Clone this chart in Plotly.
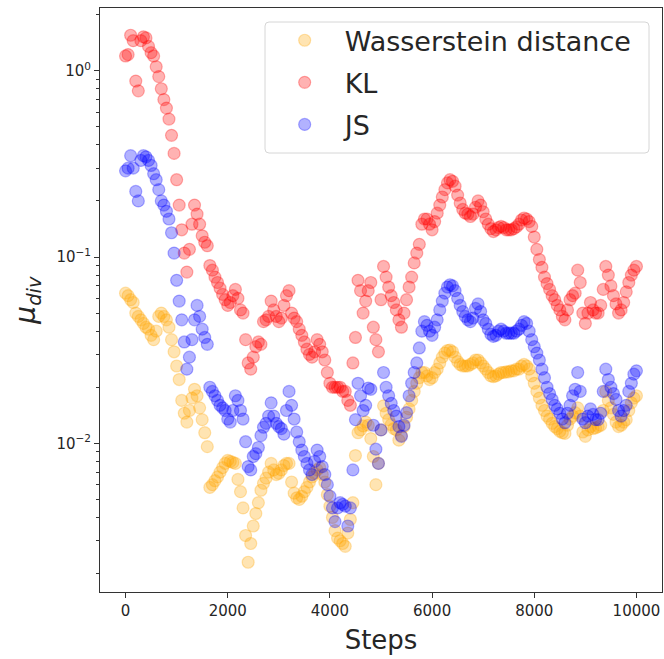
import plotly.graph_objects as go
import numpy as np

step_interval = 50

kl = [
    1.2, 1.22, 1.55, 1.45, 0.88, 0.78, 1.45, 1.52, 1.5, 1.35,
    1.25, 1.2, 1.05, 0.93, 0.8, 0.7, 0.63, 0.55, 0.45, 0.36,
    0.26, 0.19, 0.14, 0.105, 0.083, 0.11, 0.15, 0.19, 0.17, 0.15,
    0.13, 0.12, 0.115, 0.09, 0.085, 0.078, 0.073, 0.068, 0.063, 0.059,
    0.055, 0.057, 0.062, 0.067, 0.06, 0.052, 0.05, 0.036, 0.027, 0.025,
    0.029, 0.033, 0.035, 0.034, 0.045, 0.046, 0.048, 0.058, 0.052, 0.048,
    0.045, 0.047, 0.055, 0.062, 0.066, 0.05, 0.047, 0.045, 0.041, 0.038,
    0.035, 0.032, 0.03, 0.029, 0.031, 0.036, 0.034, 0.031, 0.028, 0.024,
    0.021, 0.02, 0.02, 0.02, 0.02, 0.019, 0.019, 0.017, 0.016, 0.027,
    0.037, 0.075, 0.066, 0.05, 0.058, 0.066, 0.073, 0.042, 0.036, 0.031,
    0.059, 0.089, 0.078, 0.069, 0.062, 0.057, 0.052, 0.046, 0.042, 0.05,
    0.059, 0.069, 0.078, 0.093, 0.105, 0.117, 0.15, 0.16, 0.16, 0.15,
    0.14, 0.155, 0.172, 0.19, 0.21, 0.23, 0.25, 0.26, 0.255, 0.24,
    0.215, 0.195, 0.18, 0.172, 0.17, 0.165, 0.17, 0.185, 0.2, 0.19,
    0.175, 0.16, 0.15, 0.142, 0.137, 0.14, 0.144, 0.146, 0.144, 0.14,
    0.14, 0.14, 0.142, 0.145, 0.15, 0.158, 0.162, 0.16, 0.155, 0.146,
    0.128, 0.11, 0.097, 0.088, 0.078, 0.072, 0.067, 0.062, 0.059, 0.055,
    0.052, 0.048, 0.046, 0.052, 0.059, 0.062, 0.064, 0.085, 0.073, 0.05,
    0.044, 0.05, 0.057, 0.052, 0.05, 0.05, 0.055, 0.067, 0.089, 0.08,
    0.07, 0.062, 0.056, 0.05, 0.052, 0.057, 0.065, 0.073, 0.08, 0.085,
    0.089,
]

js = [
    0.29, 0.3, 0.35, 0.3, 0.225, 0.2, 0.33, 0.35, 0.345, 0.33,
    0.31, 0.28, 0.26, 0.23, 0.2, 0.19, 0.176, 0.16, 0.135, 0.105,
    0.075, 0.058, 0.046, 0.035, 0.025, 0.029, 0.036, 0.046, 0.055, 0.048,
    0.041, 0.037, 0.034, 0.02, 0.019, 0.018, 0.017, 0.016, 0.0155, 0.015,
    0.0135, 0.013, 0.015, 0.018, 0.017, 0.015, 0.0135, 0.0102, 0.0075, 0.0072,
    0.0085, 0.0088, 0.0095, 0.011, 0.0122, 0.0128, 0.014, 0.0165, 0.014, 0.0128,
    0.0123, 0.012, 0.0112, 0.015, 0.019, 0.016, 0.0135, 0.0115, 0.0102, 0.0092,
    0.0085, 0.0078, 0.0072, 0.0068, 0.008, 0.0092, 0.0085, 0.0075, 0.0068, 0.006,
    0.0052, 0.0045, 0.0038, 0.0045, 0.0048, 0.0047, 0.0046, 0.0036, 0.0045, 0.0072,
    0.0134, 0.021, 0.018, 0.015, 0.016, 0.0198, 0.0195, 0.0125, 0.0093, 0.0078,
    0.0118, 0.024, 0.02, 0.018, 0.0164, 0.015, 0.014, 0.0123, 0.0109, 0.0125,
    0.0146, 0.018, 0.021, 0.024, 0.027, 0.0325, 0.04, 0.045, 0.043, 0.04,
    0.038, 0.042, 0.046, 0.052, 0.058, 0.064, 0.069, 0.071, 0.07, 0.066,
    0.06, 0.055, 0.051, 0.048, 0.046, 0.045, 0.047, 0.053, 0.056, 0.051,
    0.046, 0.044, 0.041, 0.0385, 0.0375, 0.038, 0.04, 0.041, 0.04, 0.039,
    0.039, 0.039, 0.039, 0.04, 0.041, 0.043, 0.045, 0.044, 0.04, 0.036,
    0.033, 0.0305, 0.028, 0.025, 0.0225, 0.02, 0.0185, 0.0172, 0.016, 0.0153,
    0.0145, 0.0135, 0.0129, 0.0145, 0.016, 0.018, 0.0195, 0.024, 0.019, 0.0135,
    0.0129, 0.014, 0.0153, 0.0143, 0.0134, 0.0134, 0.0145, 0.019, 0.025, 0.022,
    0.02, 0.0185, 0.0172, 0.015, 0.014, 0.015, 0.016, 0.019, 0.021, 0.0235,
    0.0245,
]

wasserstein = [
    0.064, 0.062, 0.059, 0.057, 0.05, 0.048, 0.046, 0.044, 0.042, 0.041,
    0.038, 0.036, 0.04, 0.048, 0.05, 0.048, 0.046, 0.042, 0.036, 0.031,
    0.026, 0.022, 0.017, 0.0145, 0.013, 0.015, 0.0175, 0.0195, 0.018, 0.0155,
    0.0134, 0.0114, 0.0096, 0.0058, 0.006, 0.0063, 0.0066, 0.007, 0.0074, 0.0078,
    0.0081, 0.008, 0.0079, 0.0078, 0.0064, 0.0055, 0.0045, 0.0032, 0.0023, 0.0029,
    0.0036, 0.0042, 0.0048, 0.0056, 0.0061, 0.0065, 0.007, 0.0078, 0.0072, 0.0068,
    0.0069, 0.0072, 0.0076, 0.0078, 0.0078, 0.0062, 0.0054, 0.0051, 0.005, 0.0052,
    0.0055, 0.0058, 0.0062, 0.0066, 0.0069, 0.0072, 0.0074, 0.0068, 0.0062, 0.0053,
    0.0046, 0.004, 0.0034, 0.0031, 0.003, 0.0029, 0.0028, 0.0033, 0.0039, 0.0048,
    0.0086, 0.0114, 0.0118, 0.0124, 0.013, 0.0125, 0.0106, 0.0085, 0.006, 0.0078,
    0.0118, 0.0159, 0.0145, 0.0134, 0.0126, 0.012, 0.0118, 0.0104, 0.011, 0.0123,
    0.0138, 0.0153, 0.017, 0.019, 0.021, 0.0225, 0.024, 0.024, 0.023, 0.022,
    0.0225, 0.024, 0.025, 0.027, 0.029, 0.0305, 0.0315, 0.0317, 0.031, 0.029,
    0.0275, 0.0265, 0.026, 0.026, 0.026, 0.0265, 0.027, 0.028, 0.028, 0.027,
    0.026, 0.025, 0.024, 0.023, 0.0228, 0.023, 0.0235, 0.024, 0.024, 0.0242,
    0.0242, 0.0245, 0.0245, 0.025, 0.025, 0.026, 0.0265, 0.026, 0.025, 0.023,
    0.021, 0.019, 0.0175, 0.016, 0.015, 0.014, 0.0135, 0.0128, 0.0123, 0.012,
    0.0116, 0.0114, 0.0113, 0.0125, 0.0135, 0.014, 0.0146, 0.0155, 0.014, 0.0115,
    0.0109, 0.0118, 0.0123, 0.012, 0.0121, 0.0123, 0.0125, 0.015, 0.019, 0.017,
    0.0155, 0.0143, 0.013, 0.0123, 0.0125, 0.013, 0.0134, 0.015, 0.0165, 0.0175,
    0.018,
]

assert len(kl) == 201 and len(js) == 201 and len(wasserstein) == 201, (len(kl), len(js), len(wasserstein))

steps = np.arange(len(kl)) * step_interval

series_names = ["Wasserstein distance", "KL", "JS"]
series_values = [wasserstein, kl, js]
series_colors = [(255, 165, 0), (255, 0, 0), (0, 0, 255)]

x_tick_vals = [0, 2000, 4000, 6000, 8000, 10000]
x_tick_text = ["0", "2000", "4000", "6000", "8000", "10000"]
y_tick_vals = [0.01, 0.1, 1]
y_tick_text = ["10<sup>−2</sup>", "10<sup>−1</sup>", "10<sup>0</sup>"]

fig = go.Figure()
for i, (name, vals, c) in enumerate(zip(series_names, series_values, series_colors)):
    rgba = f"rgba({c[0]},{c[1]},{c[2]},0.3)"
    fig.add_trace(go.Scatter(
        x=steps, y=vals, mode="markers", name=name,
        legendgroup=f"g{i}",
        marker=dict(size=12, color=rgba, line=dict(color=rgba, width=1.2)),
    ))

minor_vals = [m * 10.0 ** k for k in range(-3, 1) for m in range(2, 10)]

# legend frame (pixel box 265..649 x 22..153 within plot area 100..662 x 8..592)
pw, ph = 562.0, 584.0
x0, x1 = (265 - 100) / pw, (649 - 100) / pw
y1, y0 = (592 - 22) / ph, (592 - 153) / ph
rx, ry = 4 / pw, 4 / ph
frame_path = (
    f"M {x0+rx},{y1} L {x1-rx},{y1} Q {x1},{y1} {x1},{y1-ry} "
    f"L {x1},{y0+ry} Q {x1},{y0} {x1-rx},{y0} "
    f"L {x0+rx},{y0} Q {x0},{y0} {x0},{y0+ry} "
    f"L {x0},{y1-ry} Q {x0},{y1} {x0+rx},{y1} Z"
)

axis_color = "#333333"
fig.update_layout(
    width=664, height=659,
    margin=dict(l=100, r=2, t=8, b=67),
    paper_bgcolor="white", plot_bgcolor="white",
    font=dict(family="DejaVu Sans", color="#262626", size=15),
    showlegend=True,
    shapes=[dict(type="path", path=frame_path, xref="paper", yref="paper",
                 line=dict(color="#d6d6d6", width=1), fillcolor="rgba(255,255,255,0.8)",
                 layer="below")],
    legend=dict(
        x=0.293, y=0.986, xanchor="left", yanchor="top",
        bgcolor="rgba(0,0,0,0)", borderwidth=0,
        font=dict(size=27, color="#262626"), tracegroupgap=4,
        itemwidth=70,
    ),
    xaxis=dict(
        range=[-500, 10500], tickmode="array", tickvals=x_tick_vals, ticktext=x_tick_text,
        showgrid=False, zeroline=False, showline=True, mirror=True, automargin=False,
        linecolor=axis_color, linewidth=1, ticks="outside", ticklen=5, tickcolor=axis_color,
        title=dict(text="Steps", font=dict(size=26, color="#262626"), standoff=11),
        tickfont=dict(size=15),
    ),
    yaxis=dict(
        type="log", range=[-2.798, 0.3366], tickmode="array", tickvals=y_tick_vals, ticktext=y_tick_text,
        showgrid=False, zeroline=False, showline=True, mirror=True, automargin=False,
        linecolor=axis_color, linewidth=1, ticks="outside", ticklen=5, tickcolor=axis_color,
        minor=dict(tickmode="array", tickvals=minor_vals, ticks="outside", ticklen=3, tickcolor=axis_color),
        title=dict(text="<i>μ<sub>div</sub></i>", font=dict(size=28, color="#262626"), standoff=12),
        tickfont=dict(size=15),
    ),
)

fig.write_html("out.html", config={"displayModeBar": False},
               post_script="document.body.style.margin='0px';")
